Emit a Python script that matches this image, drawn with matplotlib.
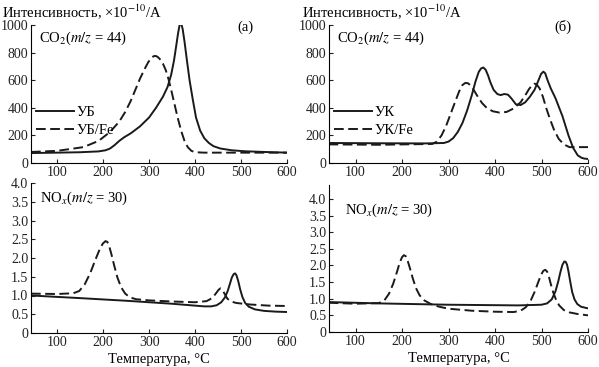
import matplotlib
matplotlib.use("Agg")
import matplotlib.pyplot as plt

plt.rcParams['font.family'] = ['Liberation Serif', 'DejaVu Serif']
plt.rcParams['mathtext.fontset'] = 'stix'
plt.rcParams['font.size'] = 10

# (а) CO2, УБ
t_ub = [43, 100, 150, 190, 205, 215, 225, 235, 245, 260, 280, 300, 315, 330, 340, 348, 354,
        359, 363, 366, 368, 370, 373, 377, 382, 388, 395, 402, 411, 420, 430, 440, 455, 480,
        509, 550, 600]
co2_ub = [72, 75, 78, 84, 92, 105, 130, 160, 185, 215, 265, 330, 400, 480, 550, 640, 740,
          850, 940, 995, 1015, 1010, 970, 880, 750, 600, 460, 330, 235, 180, 145, 122, 105, 92,
          85, 80, 75]
# (а) CO2, УБ/Fe
t_ubfe = [43, 100, 157, 190, 215, 235, 248, 260, 270, 280, 290, 298, 305, 310, 314, 318, 323,
          330, 336, 342, 348, 355, 362, 370, 377, 384, 392, 400, 420, 500, 600]
co2_ubfe = [80, 88, 115, 160, 225, 300, 370, 450, 530, 610, 680, 730, 762, 774, 776, 770, 755,
            720, 675, 610, 530, 430, 330, 230, 160, 115, 88, 78, 75, 75, 75]

# (б) CO2, УК
t_uk = [42, 150, 250, 290, 300, 310, 320, 330, 340, 350, 358, 365, 370, 375, 380, 385, 390,
        397, 405, 412, 420, 428, 436, 445, 455, 465, 475, 485, 493, 499, 504, 508, 513, 520,
        530, 545, 558, 568, 578, 586, 592, 598]
co2_uk = [145, 143, 142, 145, 155, 180, 225, 290, 380, 490, 590, 660, 685, 692, 675, 635, 585,
          530, 500, 492, 500, 495, 465, 425, 420, 440, 480, 530, 595, 645, 662, 650, 600, 540,
          470, 340, 200, 110, 55, 38, 32, 30]
# (б) CO2, УК/Fe
t_ukfe = [42, 150, 265, 275, 285, 295, 305, 315, 323, 330, 336, 342, 348, 355, 363, 372, 382,
          395, 410, 425, 440, 455, 465, 473, 480, 485, 490, 496, 503, 510, 518, 527, 537, 548,
          560, 600]
co2_ukfe = [135, 132, 138, 155, 200, 270, 360, 450, 520, 565, 580, 578, 560, 525, 480, 435, 400,
            375, 365, 370, 395, 440, 490, 535, 565, 575, 568, 540, 480, 400, 320, 240, 175, 135,
            115, 115]

# (а) NOx
t_no_ub = [43, 150, 250, 350, 420, 435, 447, 457, 465, 471, 476, 480, 484, 487, 490, 494, 498,
           503, 509, 517, 530, 550, 575, 600]
no_ub = [1.0, 0.93, 0.86, 0.78, 0.71, 0.71, 0.74, 0.82, 0.95, 1.12, 1.32, 1.48, 1.57, 1.59,
         1.54, 1.38, 1.17, 0.96, 0.80, 0.70, 0.63, 0.59, 0.57, 0.56]
t_no_ubfe = [43, 100, 135, 148, 160, 172, 183, 192, 199, 205, 209, 213, 218, 224, 231, 239, 248,
             258, 272, 300, 350, 400, 425, 437, 445, 451, 455, 459, 464, 470, 478, 490, 520, 560,
             600]
no_ubfe = [1.05, 1.04, 1.06, 1.12, 1.30, 1.60, 1.95, 2.22, 2.38, 2.45, 2.43, 2.32, 2.10, 1.80,
           1.48, 1.22, 1.05, 0.95, 0.90, 0.87, 0.84, 0.82, 0.85, 0.93, 1.05, 1.15, 1.19, 1.16,
           1.05, 0.92, 0.84, 0.80, 0.76, 0.73, 0.72]

# (б) NOx
t_no_uk = [42, 150, 300, 450, 500, 512, 522, 530, 536, 541, 545, 549, 552, 555, 558, 562, 566,
           571, 577, 585, 600]
no_uk = [0.90, 0.86, 0.82, 0.80, 0.82, 0.86, 0.98, 1.22, 1.52, 1.82, 2.02, 2.12, 2.11, 2.02,
         1.82, 1.50, 1.20, 0.98, 0.84, 0.76, 0.71]
t_no_ukfe = [42, 100, 150, 162, 172, 181, 189, 195, 200, 204, 208, 212, 217, 223, 230, 238, 248,
             262, 280, 300, 350, 400, 440, 455, 466, 476, 485, 493, 499, 504, 508, 512, 516, 520,
             525, 531, 538, 548, 560, 578, 600]
no_ukfe = [0.88, 0.85, 0.87, 0.95, 1.15, 1.45, 1.80, 2.08, 2.25, 2.31, 2.28, 2.15, 1.92, 1.62,
           1.32, 1.10, 0.95, 0.84, 0.76, 0.70, 0.64, 0.61, 0.60, 0.64, 0.74, 0.92, 1.20, 1.50,
           1.72, 1.84, 1.87, 1.82, 1.66, 1.44, 1.20, 0.98, 0.80, 0.66, 0.59, 0.54, 0.50]

x_ticks = [100, 200, 300, 400, 500, 600]
co2_ticks = [0, 200, 400, 600, 800, 1000]
no_ticks = [0, 0.5, 1.0, 1.5, 2.0, 2.5, 3.0, 3.5, 4.0]
no_labels = ['0', '0.5', '1.0', '1.5', '2.0', '2.5', '3.0', '3.5', '4.0']

ylab = "Интенсивность, ×10$^{-10}$/А"
xlab = "Температура, °С"
c = '#1a1a1a'
lw = 1.4
dash = (0, (5, 2.3))

fig = plt.figure(figsize=(5.99, 3.67), dpi=100)
ax1 = fig.add_axes([31/599, 1-163/367, 256/599, 138/367])
ax2 = fig.add_axes([329/599, 1-163/367, 259/599, 138/367])
ax3 = fig.add_axes([31/599, 1-333/367, 256/599, 150/367])
ax4 = fig.add_axes([329/599, 1-332/367, 259/599, 147/367])

for ax in [ax1, ax2, ax3, ax4]:
    ax.spines['top'].set_visible(False)
    ax.spines['right'].set_visible(False)
    ax.tick_params(direction='in', length=3, width=0.8, pad=2, colors='#222222')
    ax.set_xticks(x_ticks)
    ax.set_xlim(43, 600)

ax1.plot(t_ub, co2_ub, color=c, lw=lw, label='УБ')
ax1.plot(t_ubfe, co2_ubfe, color=c, lw=lw, ls=dash, label='УБ/Fe')
ax2.plot(t_uk, co2_uk, color=c, lw=lw, label='УК')
ax2.plot(t_ukfe, co2_ukfe, color=c, lw=lw, ls=dash, label='УК/Fe')
ax3.plot(t_no_ub, no_ub, color=c, lw=lw)
ax3.plot(t_no_ubfe, no_ubfe, color=c, lw=lw, ls=dash)
ax4.plot(t_no_uk, no_uk, color=c, lw=lw)
ax4.plot(t_no_ukfe, no_ukfe, color=c, lw=lw, ls=dash)

for ax in [ax1, ax2]:
    ax.set_ylim(0, 1000)
    ax.set_yticks(co2_ticks)
    ax.text(0.03, 0.9, "CO$_2$($m/z$ = 44)", transform=ax.transAxes, fontsize=10.5, va='center')
    ax.legend(loc='center left', bbox_to_anchor=(-0.01, 0.3), frameon=False, fontsize=10.5,
              handlelength=2.6, handletextpad=0.2, labelspacing=0.35, borderpad=0)
ax3.set_ylim(0, 4.0)
ax4.set_ylim(0, 4.42)
for ax in [ax3, ax4]:
    ax.set_yticks(no_ticks)
    ax.set_yticklabels(no_labels)
    ax.set_xlabel(xlab, fontsize=10.5, labelpad=3)
ax3.text(0.035, 0.9, "NO$_x$($m/z$ = 30)", transform=ax3.transAxes, fontsize=10.5, va='center')
ax4.text(0.06, 0.83, "NO$_x$($m/z$ = 30)", transform=ax4.transAxes, fontsize=10.5, va='center')

fig.text(2/599, 1-12/367, ylab, fontsize=10.5, va='center', ha='left')
fig.text(302/599, 1-12/367, ylab, fontsize=10.5, va='center', ha='left')
fig.text(245/599, 1-27/367, "(а)", fontsize=10.5, va='center', ha='center')
fig.text(563/599, 1-27/367, "(б)", fontsize=10.5, va='center', ha='center')

fig.savefig('out.png', dpi=100)
